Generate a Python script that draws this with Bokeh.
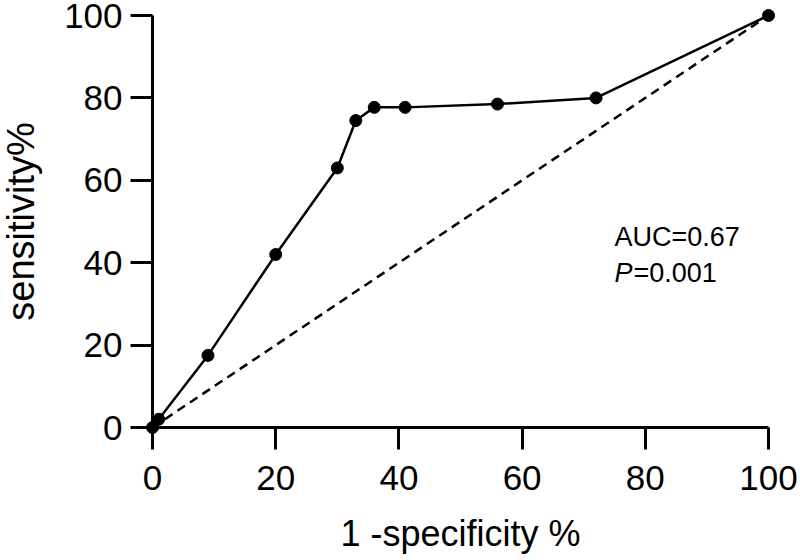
from bokeh.plotting import figure
from bokeh.models import Range1d, Label, FixedTicker
from bokeh.embed import file_html
from bokeh.resources import INLINE

# ROC curve data (percent)
fpr = [0, 1, 9, 20, 30, 33, 36, 41, 56, 72, 100]
tpr = [0, 2, 17.5, 42, 63, 74.5, 77.7, 77.7, 78.5, 80, 100]
ref_x = [0, 100]
ref_y = [0, 100]
ticks = [0, 20, 40, 60, 80, 100]
auc_text = "AUC=0.67"
p_label = "P"
p_value_text = "=0.001"

FONT = "Liberation Sans"

# frame covers the whole canvas; axes are pinned at data 0
p = figure(width=800, height=560,
           x_range=Range1d(-24.68, 105.19), y_range=Range1d(-32.28, 103.64),
           output_backend="svg", toolbar_location=None,
           min_border_left=0, min_border_right=0,
           min_border_top=0, min_border_bottom=0)
p.outline_line_color = None
p.grid.visible = False
p.background_fill_color = "white"
p.border_fill_color = "white"

for ax in (p.xaxis[0], p.yaxis[0]):
    ax.fixed_location = 0
    ax.bounds = (0, 100)
    ax.ticker = FixedTicker(ticks=ticks, minor_ticks=[])
    ax.axis_line_width = 3
    ax.axis_line_color = "black"
    ax.major_tick_line_width = 3
    ax.major_tick_line_color = "black"
    ax.major_tick_out = 22
    ax.major_tick_in = 0
    ax.minor_tick_line_color = None
    ax.major_label_text_font = FONT
    ax.major_label_text_font_size = "35px"
    ax.major_label_text_color = "black"
    ax.axis_label_text_font = FONT
    ax.axis_label_text_font_style = "normal"
    ax.axis_label_text_color = "black"

p.xaxis.axis_label = "1 -specificity %"
p.yaxis.axis_label = "sensitivity%"
p.xaxis.axis_label_text_font_size = "36px"
p.yaxis.axis_label_text_font_size = "38px"
p.xaxis.major_label_standoff = 16
p.yaxis.major_label_standoff = 8
p.xaxis.axis_label_standoff = 20
p.yaxis.axis_label_standoff = 19

p.line(ref_x, ref_y, line_color="black", line_width=2.5, line_dash="9 6")
p.line(fpr, tpr, line_color="black", line_width=2.5)
p.scatter(fpr, tpr, size=12, color="black")

p.add_layout(Label(x=75, y=42.5, text=auc_text, text_font=FONT,
                   text_font_size="27px", text_color="black"))
p.add_layout(Label(x=75, y=33.8, text=p_label, text_font=FONT,
                   text_font_size="27px", text_font_style="italic",
                   text_color="black"))
p.add_layout(Label(x=75, y=33.8, x_offset=19, text=p_value_text, text_font=FONT,
                   text_font_size="27px", text_color="black"))

open("out.html", "w").write(file_html(p, INLINE))
